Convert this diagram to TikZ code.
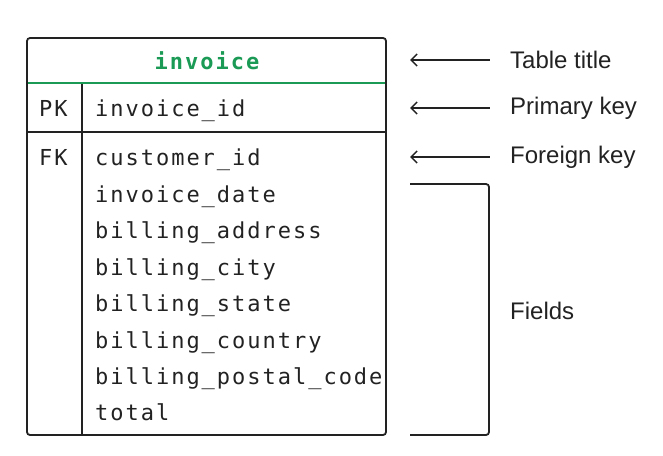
\documentclass[tikz,border=0pt]{standalone}
\usepackage{fontspec}
\setmainfont{Liberation Sans}
\newfontfamily\fieldfont[LetterSpace=9]{DejaVu Sans Mono}
\usepackage{tikz}
\usetikzlibrary{arrows.meta, positioning}

\definecolor{titlegreen}{HTML}{1A9A55}
\definecolor{ink}{HTML}{222222}

\tikzset{
    field/.style={anchor=base west, inner sep=0pt, font=\fieldfont\fontsize{22}{26}\selectfont, text=ink},
    caption/.style={anchor=west, inner sep=0pt, font=\fontsize{24}{28}\selectfont, text=ink},
    pointer/.style={ink, line width=1.5pt, {Straight Barb[length=6pt, width=12pt]}-},
}

\begin{document}
\begin{tikzpicture}[x=1pt, y=-1pt]
    \useasboundingbox (0, 0) rectangle (663, 455);

    % table frame
    \draw[ink, line width=1.8pt, rounded corners=3pt] (27, 38) rectangle (386, 435);
    \draw[titlegreen, line width=1.8pt] (28, 83) -- (385, 83);
    \draw[ink, line width=1.8pt] (28, 132) -- (385, 132);
    \draw[ink, line width=1.8pt] (82, 84) -- (82, 434);

    % title
    \node[field, anchor=base, font=\fieldfont\bfseries\fontsize{22}{26}\selectfont, text=titlegreen] (title) at (207, 69) {invoice};

    % keys
    \node[field] (pk) at (39, 116) {PK};
    \node[field] (fk) at (39, 165) {FK};

    % fields
    \node[field] (invoiceid) at (95, 116) {invoice\_id};
    \node[field] (customerid) at (95, 165) {customer\_id};
    \node[field] (invoicedate) at (95, 202) {invoice\_date};
    \node[field] (address) at (95, 238) {billing\_address};
    \node[field] (city) at (95, 275) {billing\_city};
    \node[field] (state) at (95, 311) {billing\_state};
    \node[field] (country) at (95, 348) {billing\_country};
    \node[field] (postal) at (95, 384) {billing\_postal\_code};
    \node[field] (total) at (95, 420) {total};

    % labels
    \node[caption] (tabletitle) at (510, 60) {Table title};
    \node[caption] (primarykey) at (510, 108) {Primary key};
    \node[caption] (foreignkey) at (510, 157) {Foreign key};
    \node[caption] (fields) at (510, 311) {Fields};

    % pointers
    \coordinate (titletip) at (410, 60);
    \coordinate (pktip) at (410, 108);
    \coordinate (fktip) at (410, 157);
    \draw[pointer] (titletip) -- ([xshift=-20pt]tabletitle.west);
    \draw[pointer] (pktip) -- ([xshift=-20pt]primarykey.west);
    \draw[pointer] (fktip) -- ([xshift=-20pt]foreignkey.west);

    % bracket round the fields
    \coordinate (bracketbottom) at (410, 435);
    \draw[ink, line width=1.8pt, rounded corners=3pt] (410, 184) -- (489, 184) -- (489, 435) -- (bracketbottom);
\end{tikzpicture}
\end{document}
